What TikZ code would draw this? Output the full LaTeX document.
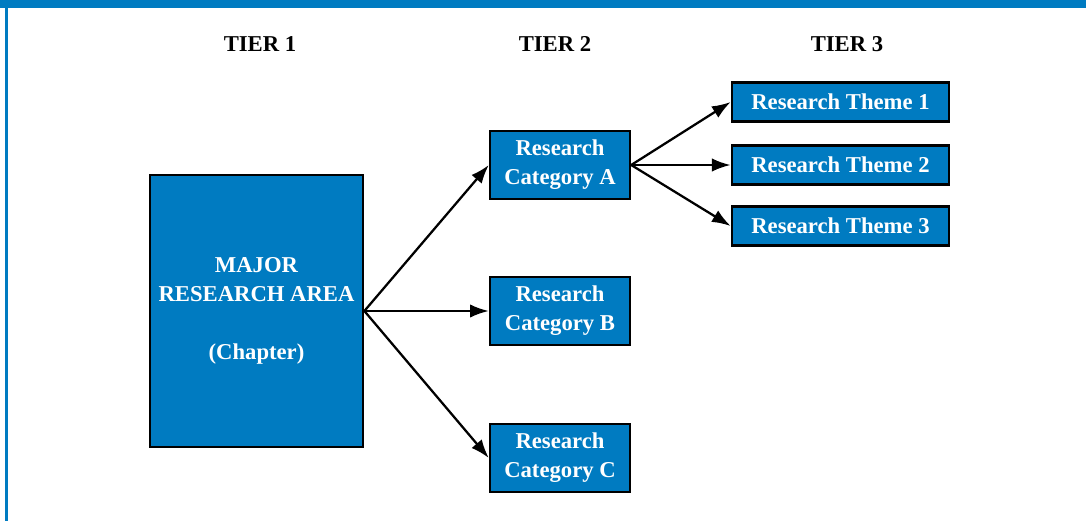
\documentclass[tikz,border=0pt]{standalone}
\usepackage{fontspec}
\setmainfont{Liberation Serif}
\usetikzlibrary{arrows.meta}

\definecolor{tierblue}{RGB}{0,123,193}

\tikzset{
  box/.style={draw=black, line width=1.8pt, fill=tierblue, text=white, align=center,
    inner sep=0pt, font=\bfseries\fontsize{17}{21.75}\selectfont},
  tierlabel/.style={font=\bfseries\fontsize{17}{21.75}\selectfont},
  link/.style={->, line width=1.7pt}
}

\begin{document}
\begin{tikzpicture}[x=0.75pt, y=-0.75pt, >={Latex[length=14pt,width=10pt]}]
    \useasboundingbox (0,0) rectangle (1086,521);
    % frame
    \fill[tierblue] (0,0) rectangle (1086,7.5);
    \fill[tierblue] (5,0) rectangle (7.5,521);
    % tier headings
    \node[tierlabel] (t1) at (260,44) {TIER 1};
    \node[tierlabel] (t2) at (555,44) {TIER 2};
    \node[tierlabel] (t3) at (847,44) {TIER 3};
    % boxes
    \node[box, minimum width=160pt, minimum height=204pt] (major) at (256.5,311)
      {MAJOR\\RESEARCH AREA\\[21.75pt](Chapter)};
    \node[box, minimum width=105pt, minimum height=51pt] (catA) at (560,165) {Research\\Category A};
    \node[box, minimum width=105pt, minimum height=51pt] (catB) at (560,311) {Research\\Category B};
    \node[box, minimum width=105pt, minimum height=51pt] (catC) at (560,458) {Research\\Category C};
    \node[box, minimum width=163pt, minimum height=29pt] (theme1) at (840.5,102) {Research Theme 1};
    \node[box, minimum width=163pt, minimum height=29pt] (theme2) at (840.5,165) {Research Theme 2};
    \node[box, minimum width=163pt, minimum height=29pt] (theme3) at (840.5,226) {Research Theme 3};
    % connectors
    \draw[link] (major.east) -- (catA.west);
    \draw[link] (major.east) -- (catB.west);
    \draw[link] (major.east) -- (catC.west);
    \draw[link] (catA.east) -- (theme1.west);
    \draw[link] (catA.east) -- (theme2.west);
    \draw[link] (catA.east) -- (theme3.west);
  \end{tikzpicture}
\end{document}
